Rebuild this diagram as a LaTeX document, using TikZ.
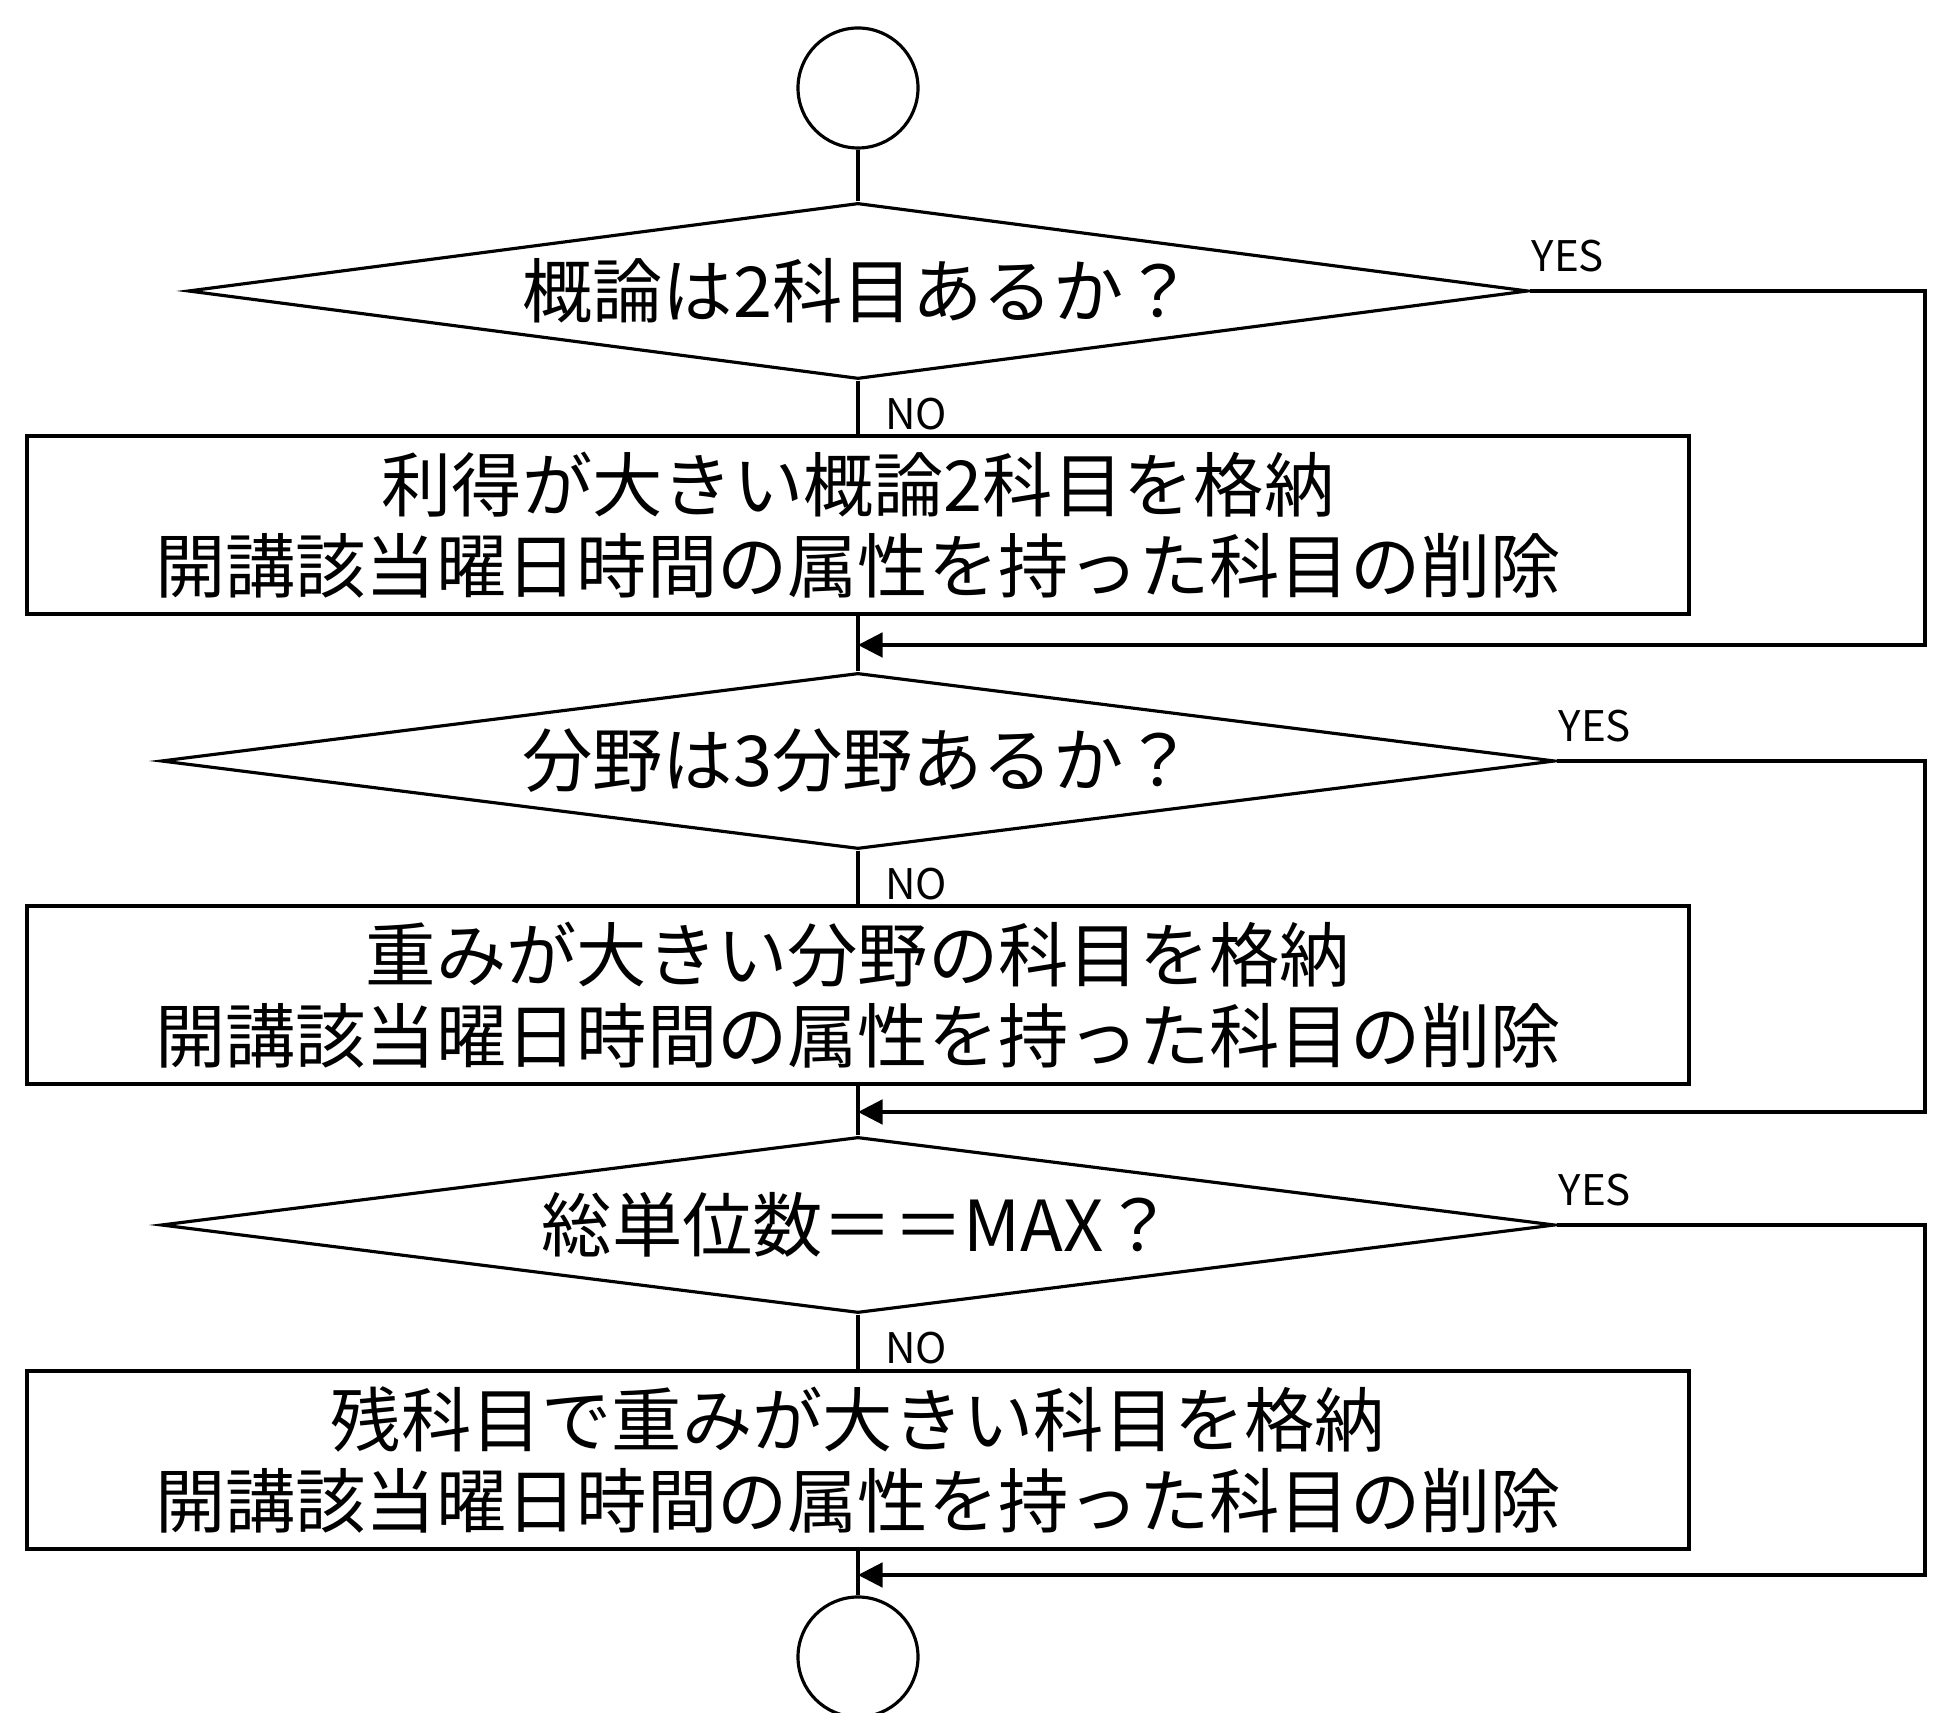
\documentclass[tikz,border=0pt]{standalone}
\usepackage{fontspec}
\setmainfont{Noto Sans CJK JP}
\usetikzlibrary{shapes.geometric,arrows.meta}
\begin{document}
\begin{tikzpicture}[line width=0.9pt,
    term/.style={circle,draw,minimum size=1.2cm,inner sep=0pt},
    decide/.style={diamond,draw,aspect=7.7,inner sep=0pt,minimum height=1.76cm,
        font=\fontsize{20}{23}\selectfont},
    proc/.style={rectangle,draw,minimum width=16.62cm,minimum height=1.78cm,
        inner sep=0pt,align=center,font=\fontsize{20}{23}\selectfont},
    yeslbl/.style={anchor=south west,inner sep=1pt,font=\fontsize{12}{14}\selectfont},
    nolbl/.style={anchor=north west,inner sep=1pt,font=\fontsize{12}{14}\selectfont},
    flow/.style={-{Triangle[length=7pt,width=7pt]}}]
\newcommand{\kaiko}{開講該当曜日時間の属性を持った科目の削除}
\useasboundingbox (0,0) rectangle (19.36,-17.13);
\node[term] (start) at (8.58,-0.88) {};
\node[decide,minimum width=13.4cm] (d1) at (8.58,-2.91) {概論は2科目あるか？};
\node[proc] (b1) at (8.58,-5.25) {利得が大きい概論2科目を格納\\\kaiko};
\node[decide,minimum width=13.94cm] (d2) at (8.58,-7.61) {分野は3分野あるか？};
\node[proc] (b2) at (8.58,-9.95) {重みが大きい分野の科目を格納\\\kaiko};
\node[decide,minimum width=13.94cm] (d3) at (8.58,-12.25) {総単位数＝＝MAX？};
\node[proc] (b3) at (8.58,-14.60) {残科目で重みが大きい科目を格納\\\kaiko};
\node[term] (stop) at (8.58,-16.57) {};
\node[yeslbl] (y1) at ([xshift=-0.03cm,yshift=0.14cm]d1.east) {YES};
\node[yeslbl] (y2) at ([xshift=-0.03cm,yshift=0.14cm]d2.east) {YES};
\node[yeslbl] (y3) at ([xshift=-0.03cm,yshift=0.14cm]d3.east) {YES};
\node[nolbl] (n1) at ([xshift=0.22cm,yshift=-0.12cm]d1.south) {NO};
\node[nolbl] (n2) at ([xshift=0.22cm,yshift=-0.12cm]d2.south) {NO};
\node[nolbl] (n3) at ([xshift=0.22cm,yshift=-0.12cm]d3.south) {NO};
\coordinate (m1) at (8.58,-6.45);
\coordinate (m2) at (8.58,-11.12);
\coordinate (m3) at (8.58,-15.75);
\coordinate (r1) at (19.25,0 |- d1.east);
\coordinate (r2) at (19.25,0 |- d2.east);
\coordinate (r3) at (19.25,0 |- d3.east);
\draw (start) -- (d1) -- (b1) -- (d2) -- (b2) -- (d3) -- (b3) -- (stop);
\draw[flow] (d1.east) -- (r1) |- (m1);
\draw[flow] (d2.east) -- (r2) |- (m2);
\draw[flow] (d3.east) -- (r3) |- (m3);
\end{tikzpicture}
\end{document}
